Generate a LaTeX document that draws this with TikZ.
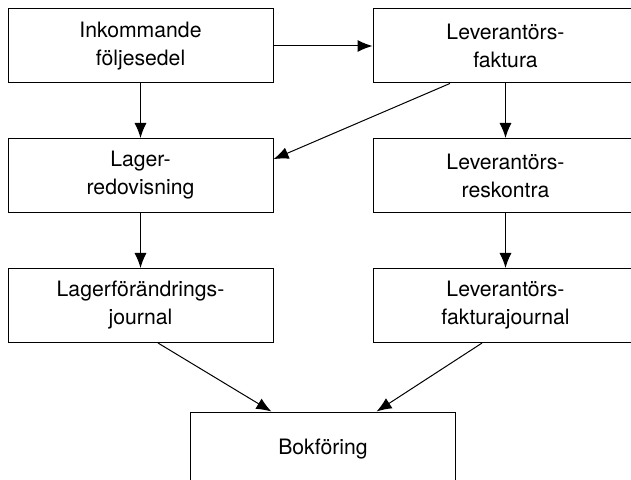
\documentclass[tikz,border=0pt]{standalone}
\usepackage{fontspec}
\setmainfont{TeX Gyre Heros}
\usepackage{tikz}
\usetikzlibrary{arrows.meta}
\usetikzlibrary{positioning}

\tikzset{
	ruta/.style={draw,line width=0.5pt,minimum width=132.5pt,minimum height=37pt,align=center,font=\fontsize{10.6}{14}\selectfont,inner sep=0pt},
	pil/.style={-{Latex[length=7.5pt,width=6pt]},line width=0.5pt}
}

\begin{document}
\begin{tikzpicture}[x=0.5pt,y=-0.5pt]
	\useasboundingbox (0,0) rectangle (631,480);
	\clip (0,0) rectangle (631,480);
	% rutor
	\node[ruta] (inkom) at (140.5,46) {Inkommande\\följesedel};
	\node[ruta] (levfakt) at (505.5,46) {Leverantörs-\\faktura};
	\node[ruta] (lager) at (140.5,175.5) {Lager-\\redovisning};
	\node[ruta] (levresk) at (505.5,175.5) {Leverantörs-\\reskontra};
	\node[ruta] (lagerjour) at (140.5,305.5) {Lagerförändrings-\\journal};
	\node[ruta] (levjour) at (505.5,305.5) {Leverantörs-\\fakturajournal};
	\node[ruta] (bok) at (323,449) {Bokföring};
	% pilar
	\draw[pil] (inkom) -- (levfakt);
	\draw[pil] (inkom) -- (lager);
	\draw[pil] (levfakt) -- (levresk);
	\draw[pil] (levfakt.214.7) -- (lager.7.5);
	\draw[pil] (lager) -- (lagerjour);
	\draw[pil] (levresk) -- (levjour);
	\draw[pil] (lagerjour.295) -- (bok.144);
	\draw[pil] (levjour.238) -- (bok.35.4);
\end{tikzpicture}
\end{document}
